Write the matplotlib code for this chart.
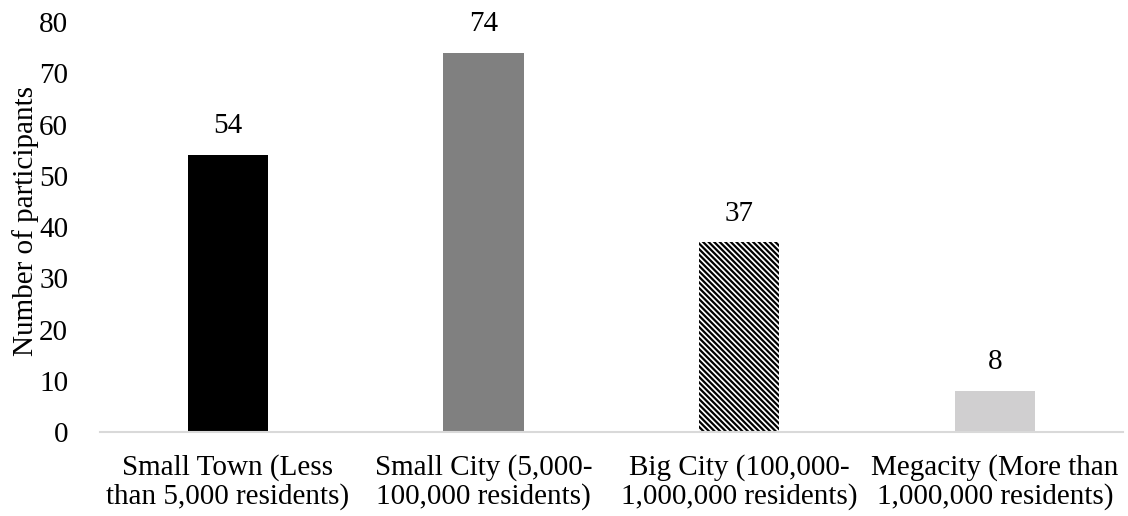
import matplotlib.pyplot as plt
import numpy as np

categories = ['Small Town (Less\nthan 5,000 residents)', 'Small City (5,000-\n100,000 residents)',
              'Big City (100,000-\n1,000,000 residents)', 'Megacity (More than\n1,000,000 residents)']
counts = [54, 74, 37, 8]
colors = ['#000000', '#808080', '#ffffff', '#d0cfd0']
hatches = [None, None, '\\\\\\\\\\\\', None]

plt.rcParams['font.family'] = ['Liberation Serif', 'DejaVu Serif']
plt.rcParams['hatch.linewidth'] = 1.6

fig = plt.figure(figsize=(11.28, 5.16), dpi=100)
ax = fig.add_axes([0.0887, 0.1628, 0.9068, 0.7942])

ind = np.arange(len(categories))
bars = ax.bar(ind, counts, 0.314, color=colors, edgecolor='none')
for b, h in zip(bars, hatches):
    if h:
        b.set_hatch(h)
        b.set_edgecolor('black')
        b.set_linewidth(0)

for x, v in zip(ind, counts):
    ax.text(x, v + 3.1, str(v), ha='center', va='bottom', fontsize=21)

ax.set_xlim(-0.5, 3.5)
ax.set_ylim(0, 80)
ax.set_yticks(np.arange(0, 81, 10))
ax.set_xticks(ind)
ax.set_xticklabels(categories, fontsize=21, linespacing=1.08)
ax.tick_params(axis='y', length=0, pad=23, labelsize=21)
ax.tick_params(axis='x', length=0, pad=16)
ax.set_ylabel('Number of participants', fontsize=21)
ax.yaxis.set_label_coords(-0.06, 0.515)

for s in ['top', 'right', 'left']:
    ax.spines[s].set_visible(False)
ax.spines['bottom'].set_color('#d9d9d9')
ax.spines['bottom'].set_linewidth(1.5)

fig.savefig('out.png', dpi=100)
